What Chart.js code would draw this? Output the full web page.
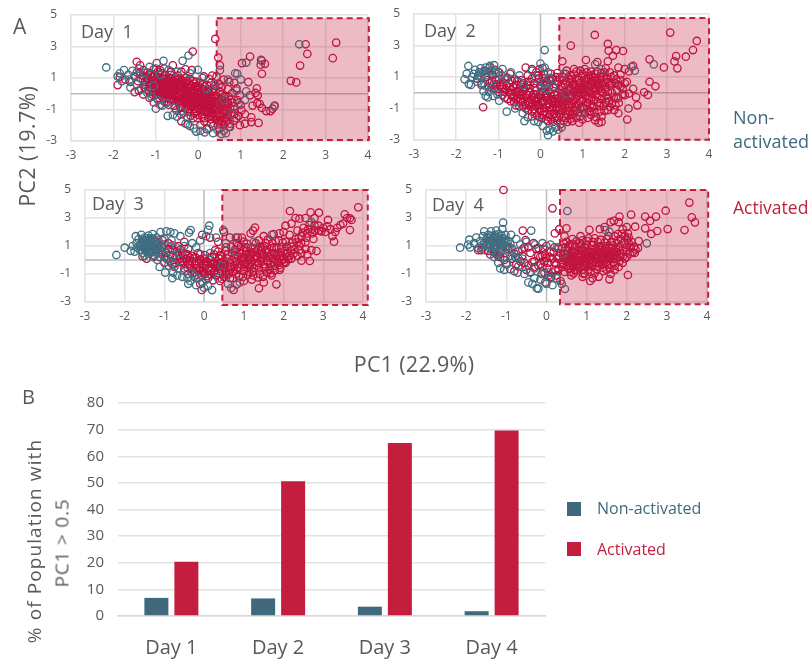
<!DOCTYPE html>
<html><head><meta charset="utf-8">
<script src="https://cdn.jsdelivr.net/npm/chart.js@4"></script>
<style>
html,body{margin:0;padding:0;background:#fff;width:809px;height:661px;overflow:hidden;font-family:"Open Sans",sans-serif}
canvas{position:absolute;left:0;top:0}
.t{position:absolute;white-space:pre;color:#595959;line-height:1}
.c{transform:translate(-50%,-50%)}
.r{transform:translate(-50%,-50%) rotate(-90deg)}
.sw{position:absolute;width:14px;height:14px}
</style></head><body>
<canvas id="c1" width="809" height="661"></canvas>
<canvas id="c2" width="809" height="661"></canvas>
<canvas id="c3" width="809" height="661"></canvas>
<canvas id="c4" width="809" height="661"></canvas>
<canvas id="c5" width="809" height="661"></canvas>
<div class="t" style="left:13px;top:16px;font-size:21px">A</div>
<div class="t" style="left:22px;top:387px;font-size:20px">B</div>
<div class="t r" style="left:27px;top:146px;font-size:21px;letter-spacing:.6px">PC2 (19.7%)</div>
<div class="t c" style="left:414px;top:364px;font-size:21.5px;letter-spacing:.3px">PC1 (22.9%)</div>
<div class="t" style="left:81px;top:22px;font-size:18px">Day  1</div>
<div class="t" style="left:424px;top:21px;font-size:18px">Day  2</div>
<div class="t" style="left:92px;top:194px;font-size:18px">Day  3</div>
<div class="t" style="left:432px;top:195px;font-size:18px">Day  4</div>
<div class="t" style="left:733px;top:105px;font-size:18px;color:#3F6A7E;line-height:24px">Non-
activated</div>
<div class="t" style="left:733px;top:199px;font-size:17.5px;color:#C41E3E">Activated</div>
<div class="t r" style="left:34px;top:541px;font-size:19px;letter-spacing:1.1px">% of Population with</div>
<div class="t r" style="left:62px;top:543px;font-size:19px;letter-spacing:.8px">PC1 &gt; 0.5</div>
<div class="sw" style="left:567px;top:502px;background:#41697D"></div>
<div class="sw" style="left:567px;top:542px;background:#C41E3E"></div>
<div class="t" style="left:597px;top:500px;font-size:16px;color:#3F6A7E">Non-activated</div>
<div class="t" style="left:597px;top:541px;font-size:16px;color:#C41E3E">Activated</div>
<script>
const dayLabels=["Day 1","Day 2","Day 3","Day 4"];
const barNonActivated=[6.8,6.6,3.5,1.8];
const barActivated=[20.4,50.6,65,69.7];
const xTickRange=[-3,4];
const yTickRange=[-3,5];
const gateX=[0.434,0.448,0.458,0.338];
const gateRight=[4.02,4,4.12,4.03];
const gateTop=[4.8,4.75,5,5];
const gateBottom=[-2.94,-2.98,-3.21,-3.16];

const day1Non=[[-2.17,1.67],[2.38,3.14],[1.13,1.98],[1.5,2.09],[.92,1.27],[.87,1.3],[.51,1.5],[1.79,-.8],[-.82,2.09],[-.37,2.09],[-.23,2.43],[-.01,1.52],[1.13,.15],[1.1,-.4],[-1.85,1.3],[-1.9,1.1],[-1.8,.8],[-1.75,1.5],[-1.65,1.2],[-1.6,.4],[-1.62,.9],[-1.55,1.45],[-1.5,1.1],[-1.45,.6],[-1.4,1.6],[-1.35,.3],[-1.3,.9],[-1.25,1.35],[-1.2,.05],[-1.15,1.7],[-1.1,-.2],[-1.05,.5],[-1,-.95],[-1,1.6],[-.95,-.4],[-.9,1.2],[-.85,-.75],[-.75,-.6],[-.7,1.5],[-.72,-1.4],[-.6,-1.35],[-.5,-1.45],[-.55,-.9],[-.4,-1.1],[-.3,-1.9],[-.25,-1.5],[-.2,-2.05],[-.1,-2.2],[-.05,-2.4],[.05,-2.35],[.15,-2.45],[.25,-2.2],[.35,-2.5],[.45,-2.3],[.55,-2.55],[.65,-2.5],[.72,-2.1],[.8,-1.3],[.6,-.4],[.2,.3],[.4,.6],[.9,.2],[.95,-.6],[1,.9],[.1,1],[-.2,1.3],[-.5,1.4],[.7,.9]];
const day1Act=[[.4,3.48],[3.25,3.25],[3.17,2.26],[2.53,3.14],[2.57,2.53],[2.4,1.79],[2.18,.82],[2.31,.72],[1.22,2.36],[1.48,2.15],[1.47,1.84],[1.57,1.9],[1.5,1.27],[1.03,1.94],[.47,2.3],[.51,1.8],[1.18,.74],[-.13,2.68],[-1.45,2.03],[-1.37,1.8],[-.98,1.95],[-.6,1.8],[-.4,1.4],[-.8,1.6],[-.15,1.5],[-.3,1.55],[.33,1.15],[.13,1.1],[.25,.95],[.43,1.1],[.6,.9],[.73,.75],[.85,.7],[.9,.35],[1.38,.35],[1.35,.05],[1.22,-.1],[1.4,-.1],[1.39,-.6],[1.28,-.75],[1.45,-.65],[1.6,-1.1],[1.7,-1.1],[1.8,-.75],[1.75,-.95],[1.5,-.9],[1.42,-1.85],[1.25,-1.5],[1.25,-1.8],[1.1,-1.9],[.98,-2],[1.1,-1.3],[-1.9,.55],[-1.85,1.05],[-1.72,.9],[-1.6,.75],[-1.5,.1],[-1.4,.2],[-1.3,-.05],[-1.25,.55],[-1.15,-.25],[-1.05,-.55],[-.9,-.7],[-.4,-1.75],[-.25,-1.95],[.05,-2],[.2,-2.25],[.35,-2.05],[.5,-2.2],[.6,-2.35],[.75,-2.1],[.65,-1.8],[.85,-1.7],[.95,-1.4],[.85,-1],[1,-.7],[.78,-.35],[.98,-.1],[.7,.3],[.55,.4],[.4,.5],
[-1.5,1.1],[-1.42,.8],[-1.38,1.3],[-1.3,1.5],[-1.27,.4],[-1.22,1],[-1.18,.2],[-1.14,.72],[-1.12,1.3],[-1.08,-.05],[-1.05,1.55],[-1.02,.5],[-1,.95],[-1,.15],[-.96,-.3],[-.94,1.25],[-.92,.7],[-.9,1.5],[-.88,.32],[-.86,.02],[-.84,.95],[-.82,-.28],[-.8,.55],[-.78,1.2],[-.76,.2],[-.74,-.5],[-.72,.8],[-.7,-.1],[-.68,1],[-.66,.4],[-.64,1.4],[-.62,-.35],[-.6,.65],[-.58,.1],[-.56,-.75],[-.54,.9],[-.52,-.2],[-.5,.35],[-.48,1.15],[-.46,-.5],[-.44,.6],[-.42,-.9],[-.4,.12],[-.38,.85],[-.36,-.28],[-.34,-1.2],[-.32,.4],[-.3,-.65],[-.28,1],[-.26,-.08],[-.24,-1],[-.22,.6],[-.2,-.42],[-.18,-1.4],[-.16,.22],[-.14,-.8],[-.12,.8],[-.1,-.15],[-.08,-1.15],[-.06,.4],[-.04,-.55],[-.02,-1.55],[0,.1],[.02,-.95],[.04,.7],[.06,-.3],[.08,-1.3],[.1,.3],[.12,-.7],[.14,-1.75],[.16,-.1],[.18,-1.1],[.2,.55],[.22,-.5],[.24,-1.5],[.26,.1],[.28,-.9],[.3,-1.9],[.32,-.25],[.34,-1.25],[.36,.3],[.38,-.65],[.4,-1.6],[.42,-.1],[.44,-1.05],[.46,-1.95],[.48,-.45],[.5,-1.4],[.52,.1],[.54,-.8],[.56,-1.75],[.6,-.2],[.62,-1.1],[.66,-1.5],[.7,-.6],[.74,-1.9],[.78,-1.25],[.8,.05],[.84,-.8],[.9,-1.55],[.92,-.4],[1.02,-1.05],[-.7,.3],[-.6,-.05],[-.5,.75],[-.4,.35],[-.3,.15],[-.2,.05],[-.1,.2],[-.75,.6],[-.65,.15],[-.55,.5],[-.45,-.1],[-.35,-.5],[-.25,-.3],[-.15,-.6],[-.05,-.35],[.05,-.75],[.15,-.55],[.25,-.7],[.35,-1],[.45,-.8],[-.85,.5],[-.95,.3],[-1.05,.8],[-.9,.1],[-.8,.15],[-.7,.5],[-.6,.3]];
const day1ActCore=[[-1.17,.95],[-1.06,.82],[-.97,.78],[-.87,.68],[-.77,.53],[-.66,.5],[-.57,.36],[-.46,.3],[-.37,.16],[-.26,.11],[-.17,-.02],[-.06,-.08],[.03,-.22],[.14,-.27],[.23,-.41],[.34,-.46],[.44,-.6],[.55,-.65],[.64,-.79],[-1.13,.62],[-1.03,.52],[-.93,.48],[-.83,.36],[-.73,.23],[-.63,.19],[-.53,.05],[-.43,-.02],[-.33,-.14],[-.23,-.2],[-.13,-.33],[-.03,-.4],[.07,-.52],[.17,-.58],[.27,-.72],[.37,-.78],[.47,-.9],[.57,-.97],[.67,-1.08],[-1.1,.32],[-1,.22],[-.9,.17],[-.8,.04],[-.7,-.06],[-.6,-.12],[-.5,-.26],[-.4,-.32],[-.3,-.45],[-.2,-.52],[-.1,-.63],[0,-.72],[.1,-.82],[.2,-.9],[.3,-1.02],[.4,-1.08],[.5,-1.2],[.6,-1.28],[.7,-1.38],[-.88,-.13],[-.78,-.24],[-.68,-.35],[-.58,-.43],[-.48,-.55],[-.38,-.63],[-.28,-.76],[-.18,-.82],[-.08,-.95],[.02,-1.02],[.12,-1.14],[.22,-1.2],[.32,-1.33],[.42,-1.4],[.52,-1.5],[.62,-1.6],[-1.12,1.22],[-1.02,1.14],[-.92,1.04],[-.82,.98],[-.72,.85],[-.62,.78],[-.52,.66],[-.42,.6],[-.32,.48],[-.22,.4],[-.12,.28],[-.02,.22],[.08,.1],[.18,.02],[.28,-.1],[.38,-.18],[.48,-.3],[.58,-.38],[.68,-.48],[-.47,.88],[-.37,.72],[-.27,.68],[-.17,.55],[-.07,.48],[.03,.36],[.13,.28],[.23,.18],[.33,.1],[-.76,.36],[-.56,.22],[-.36,.02],[-.16,-.2],[.04,-.4],[.24,-.6],[.44,-1],[-.64,-.24],[-.44,-.46],[-.24,-.64],[-.04,-.85],[.16,-1],[.36,-1.25],[-.3,-.95],[-.1,-1.25],[.1,-1.45],[.3,-1.62],[.5,-1.72],[-.95,.9],[-.75,.72],[-.55,.52],[-.35,.32],[-.15,.12],[.05,-.05],[.25,-.25],[.45,-.45],[.62,-.6]];
const day1ActFringe=[[-1.45,1.35],[-1.35,.95],[-1.3,1.15],[-1.25,.75],[-1.2,1.35],[-1.15,.45],[-1.1,1.05],[-1,.65],[-.95,1.4],[-.85,1.3],[-.75,1],[-.65,1.2],[-.55,1.05],[-.45,.95],[-.3,.8],[-.2,.95],[-.1,.65],[0,.5],[.1,.6],[.3,.7],[.5,.6],[.55,-.05],[.72,-.2],[.75,-.9],[.8,-.55],[.85,-1.3],[.68,-1.7],[.6,-1.95],[.45,-1.7],[.3,-1.4],[.15,-1.55],[0,-1.35],[-.12,-1.55],[-.2,-1.15],[-.4,-1.3],[-.52,-1.05],[-.7,-.7],[-.8,-.5],[-1,-.05],[-1.1,.1],[-.9,.6],[-.7,.65],[-.5,.5],[-.3,.25],[-.1,0],[.1,-.25],[.3,-.45],[.5,-.65],[.62,-.15],[.35,.2],[.15,.45],[-.05,.75],[-.25,.8],[-1.02,.35],[-.82,.15],[-.62,-.1],[-.42,-.3],[-.22,-.45],[-.02,-.6],[.18,-.8]];

const day2Non=[[.1,2.71],[-1.71,1.7],[2.69,1.8],[2.16,1.65],[2.24,1.4],[-1.8,.85],[-.8,-1.2],[-.38,-1.8],[0,1.85],[.18,-2.7],[-1.75,1.2],[-1.7,.55],[-1.65,.5],[-1.62,1],[-1.55,1.45],[-1.5,.7],[-1.45,1.3],[-1.4,1],[-1.35,.1],[-1.3,1.6],[-1.25,-.3],[-1.2,1.7],[-1.15,.3],[-1.1,1.75],[-1.3,-.2],[-1.05,1.2],[-.98,-.5],[-.9,1.5],[-.8,.9],[-.7,1.3],[-.6,-1],[-.5,1.1],[-.42,-1.3],[-.3,-1.55],[-.2,1.4],[-.15,-1.8],[-.05,-1.85],[.05,-2.1],[.1,1.6],[.15,-2.4],[.22,-2.35],[.3,-2.45],[.35,-2.2],[.42,-2.35],[.5,-2.2],[.1,.6],[.3,.4],[.18,1.3],[1.3,1.8],[1.45,1.5],[.97,-1.3],[.55,1.2],[-.1,.9],[-.4,.5],[.6,-.1],[-1.58,1.2],[-1.48,1.05],[-1.42,1.55],[-1.36,1.3],[-1.3,1.1],[-1.22,1.35],[-1.15,1.45],[-1.08,.9],[-1,1.3],[-.92,1.1],[-1.4,.6],[-1.32,.45],[-1.22,.05],[-1.12,-.2],[-1.02,-.1],[.22,.95],[.15,.25],[.02,.3]];
const day2Act=[[1.29,3.67],[3.08,3.82],[3.71,3.29],[3.62,2.71],[3.45,2.29],[3.22,2.33],[3.18,1.99],[3.25,1.55],[2.93,1.61],[2.59,2.12],[.72,2.99],[1.6,3.1],[1.62,2.67],[1.8,2.71],[1.96,2.65],[1.72,2.35],[2.59,.7],[2.73,.41],[2.46,.03],[2.55,-.14],[2.3,-.8],[2.09,-1],[2.06,-1.7],[2.27,-.29],[-1.36,-.92],[.52,2],[1.08,2.08],[1.35,1.95],[1.6,2],[1.85,1.6],[2,1.5],[2.1,1.35],[2.2,1.7],[1.9,1.15],[2.05,.7],[2.2,.25],[2.1,-.05],[2,-.15],[1.8,-.3],[1.75,-1.1],[1.85,-1.3],[1.6,-1.1],[1.38,-1.9],[1.45,-1.85],[1.3,-1.75],[1.2,-1.4],[.92,-1.9],[.75,-1.8],[-1.5,.9],[-1.4,.5],[-1.32,1.4],[-1.2,1.6],[-1.08,1.45],[-.35,1.6],[-.2,1.5],[-.02,1.5],[.05,1.55],[.2,.8],[.4,1.25],[.62,1.4],[.8,1.5],[.95,1.4],[1.05,1.5],[1.2,1.35],
[-1.28,1],[-1.2,.6],[-1.15,1.1],[-1.1,.25],[-1.05,.8],[-1,.05],[-.98,1.3],[-.95,.5],[-.9,-.15],[-.85,.9],[-.82,.2],[-.78,-.4],[-.75,.6],[-.72,1.2],[-.68,-.1],[-.65,.35],[-.62,-.6],[-.6,.85],[-.55,.1],[-.52,-.3],[-.5,-.85],[-.46,.5],[-.44,-.1],[-.42,-.6],[-.38,.2],[-.35,-1],[-.34,-.3],[-.3,1.1],[-.28,-.75],[-.26,.05],[-.24,.7],[-.22,-.45],[-.2,-1.2],[-.16,-.1],[-.14,.3],[-.12,-.8],[-.1,1.3],[-.08,-1.45],[-.06,-.3],[-.04,.9],[-.02,-1],[0,.4],[.02,-.55],[.04,-1.6],[.06,.05],[.08,1.2],[.1,-1.2],[.12,-.2],[.14,.5],[.16,-.8],[.18,-1.8],[.2,.1],[.22,-1.4],[.24,-.45],[.26,.9],[.28,-1],[.3,-1.85],[.32,.3],[.34,-.1],[.36,-.7],[.38,-1.5],[.4,.7],[.42,-.35],[.44,-1.1],[.46,.2],[.48,-2],[.5,-.8],[.52,1],[.54,-.15],[.56,-1.5],[.58,.5],[.6,-.5],[.62,-1.15],[.64,-1.85],[.66,.15],[.68,.9],[.7,-.8],[.72,-.2],[.74,-1.4],[.76,.5],[.78,-.5],[.8,1.15],[.82,.1],[.84,-1.1],[.86,-.25],[.88,.8],[.9,-.7],[.92,.35],[.94,-1.5],[.96,0],[.98,1.05],[1,-.45],[1.02,.55],[1.04,-1],[1.06,.2],[1.08,-.2],[1.1,.9],[1.12,-.65],[1.14,.4],[1.16,-1.2],[1.18,.05],[1.2,1.1],[1.22,-.3],[1.24,.65],[1.26,-.85],[1.28,.25],[1.3,1.2],[1.32,-.1],[1.34,.8],[1.36,-.6],[1.38,.4],[1.4,-1.2],[1.42,1.05],[1.44,.1],[1.46,-.35],[1.48,.6],[1.5,-.85],[1.52,1.3],[1.54,.2],[1.56,-.2],[1.58,.85],[1.62,-.55],[1.65,.45],[1.68,1],[1.7,0],[1.74,-.3],[1.78,.6],[1.82,.15],[1.86,-.65],[1.9,.4],[1.95,-.1],[-.3,.45],[-.1,-.55],[.1,.25],[.3,-.4],[.5,.35],[.7,.2],[.9,.05],[1.1,.15],[1.3,.55],[-.5,.25],[-.7,.15],[-.9,.25],[0,-.15],[.2,-.9],[.4,-.95],[.6,-.2]];
const day2ActCore=[[-.72,.02],[-.64,-.2],[-.58,-.42],[-.5,-.1],[-.48,-.58],[-.42,.12],[-.4,-.35],[-.36,-.75],[-.32,-.12],[-.3,-.52],[-.24,-.9],[-.2,-.25],[-.18,-.68],[-.14,-1.05],[-.1,-.12],[-.08,-.42],[-.04,-.82],[0,-1.18],[.02,-.3],[.04,-.65],[.08,-.98],[.12,-1.35],[.14,-.05],[.16,-.48],[.2,-.72],[.22,-1.1],[.25,-.22],[.28,-.6],[.3,-.85],[.32,-1.3],[.35,-.38],[.38,-1.1],[.4,-.15],[.42,-.7],[.45,-1.4],[.48,-.45],[.5,-.05],[.52,-1],[.55,-.3],[.58,-.85],[.6,-1.35],[.62,.05],[.65,-.55],[.68,-.95],[.7,-.3],[.72,.3],[.75,-.7],[.78,.05],[.8,-1.15],[.82,-.4],[.85,.3],[.88,-.85],[.9,-.2],[.92,.6],[.95,-.55],[.98,.2],[1,-.95],[1.02,-.1],[1.05,.45],[1.08,-.6],[1.1,.7],[1.12,-.25],[1.15,.15],[1.18,-.8],[1.2,.5],[1.22,-.05],[1.25,.3],[1.28,-.45],[1.3,.8],[1.32,.1],[1.35,-.25],[1.38,.6],[1.4,.25],[1.42,-.65],[1.45,.45],[1.48,0],[1.52,.7],[1.55,.35],[1.6,.05],[1.65,.6],[-.15,-.35],[.05,-.5],[.25,-.45],[.45,-.9],[.65,-.75],[.85,-.05],[1.05,.05],[.55,-.6],[.35,-.55],[.15,-.3],[-.05,-.7],[.75,-.2],[.95,.35],[1.15,-.4],[1.35,.45],[-.25,-.6],[-.45,-.2],[-.6,.05],[.62,-.1],[.82,.45],[1.02,.25]];
const day2ActFringe=[[-1.25,.8],[-1.22,.35],[-1.15,.75],[-1.12,.5],[-1.05,.55],[-1.02,.25],[-.98,.85],[-.92,.35],[-.88,.65],[-.85,.05],[-.8,.45],[-.78,.95],[-.72,.35],[-.68,.75],[-.65,-.3],[-.58,.5],[-.55,.75],[-.5,.05],[-.45,.8],[-.4,.6],[-.35,.35],[-.3,.7],[-.25,.3],[-.2,.9],[-.15,.6],[-.1,.15],[-.05,1.1],[0,.7],[.05,.95],[.1,.9],[.15,.7],[.2,.4],[.25,1.2],[.3,.85],[.35,.55],[.38,1],[.45,.95],[.48,.45],[.55,.8],[.6,1.2],[.62,.7],[.7,.65],[.72,1.1],[.75,.85],[.8,.55],[.85,1.35],[.9,.95],[.95,.65],[1,1.2],[1.05,.8],[1.1,1.3],[1.15,.95],[1.2,.75],[1.25,1],[1.3,.95],[1.35,1.35],[1.4,.8],[1.45,1.25],[1.5,1],[1.55,1.55],[1.6,.7],[1.65,1.3],[1.7,.6],[1.75,1.1],[1.8,.85],[1.85,.5],[1.9,.8],[1.95,.25],[2,.6],[.5,-1.15],[.55,-1.8],[.6,-1.6],[.65,-1.35],[.7,-1.15],[.72,-1.65],[.78,-1.35],[.82,-.9],[.85,-1.6],[.9,-1.25],[.95,-.95],[1,-1.7],[1.05,-1.3],[1.1,-.85],[1.12,-1.6],[1.18,-1.15],[1.22,-.95],[1.28,-1.25],[1.32,-1.55],[1.4,-.85],[1.45,-1.5],[1.52,-1.15],[1.55,-.6],[1.6,-.35],[1.65,-.9],[1.7,-.65],[1.78,-.8],[1.85,-.35],[.4,-1.75],[.34,-1.6],[.26,-1.7],[.2,-1.55],[.14,-1.7],[.06,-1.4],[-.02,-1.55],[-.12,-1.3],[-.2,-1.5],[-.3,-1.1],[-.4,-.85],[-.58,-.8],[-.7,-.55],[-.85,-.3]];

const day3Non=[[-2.21,.36],[-2,.88],[.13,2.45],[.1,2.15],[-.34,2.14],[-.38,1.95],[.48,2.14],[.68,-2],[-1.85,.65],[-1.8,1],[-1.75,.6],[-1.72,1.7],[-1.7,1.2],[-1.68,.9],[-1.65,1.5],[-1.62,.7],[-1.6,1.1],[-1.58,1.8],[-1.55,.5],[-1.55,1.3],[-1.52,.85],[-1.5,1.6],[-1.5,.3],[-1.48,1.05],[-1.46,.65],[-1.44,1.4],[-1.42,.9],[-1.4,1.75],[-1.4,.45],[-1.38,1.2],[-1.36,.75],[-1.34,1.55],[-1.32,1],[-1.3,.55],[-1.3,1.85],[-1.28,.2],[-1.25,1.3],[-1.22,.8],[-1.2,1.6],[-1.18,0],[-1.15,1.1],[-1.12,-.5],[-1.1,2],[-1.05,.4],[-1,1.5],[-.98,-.9],[-.95,2.05],[-.9,.1],[-.85,2],[-.82,1.4],[-.8,-1.3],[-.78,-.9],[-.75,1.9],[-.7,.9],[-.68,-1.1],[-.6,1.7],[-.55,-1.2],[-.5,1],[-.42,-1.3],[-.4,-1.7],[-.35,-1.5],[-.3,1.2],[-.25,-1.2],[-.2,-1.8],[-.1,1.4],[-.05,-1.6],[0,-2],[.05,1.7],[.1,-1.85],[.2,-2.15],[.15,.5],[.3,1.6],[.35,-1.3],[.55,1.2],[.6,-1.7],[.8,1.6],[.9,-1.6],[1.25,1.3],[1.7,1.8],[2.7,2.7],[.75,.6],[.45,-.4],[-.2,.9],[-.6,.5],[-1,.7],[-.8,.3],[-1.08,.9],[-1.62,1],[-1.56,.7],[-1.58,1.2],[-1.52,1.45],[-1.48,.8],[-1.46,1.2],[-1.43,1],[-1.41,.7],[-1.38,1.45],[-1.36,.95],[-1.33,.65],[-1.3,1.2],[-1.27,.95],[-1.24,.6],[-1.5,1],[-1.45,1.55],[-1.35,1.25],[-1.28,1.5],[-1.18,.9],[-1.15,1.4],[-1.1,.6],[-.98,.2],[-.9,-.4],[-.75,-.3],[-.65,-.6],[-.5,-.8],[-.3,-.95],[-.15,-1.3],[.05,-1.4]];
const day3Act=[[3.88,3.76],[3.54,3.26],[3.67,2.98],[3.71,2.86],[3.67,2.14],[3.27,1.31],[3.23,1.71],[2.16,3.5],[2.68,3.4],[2.89,3.38],[3.12,2.86],[2.78,3],[1.38,-2.02],[.74,-2.14],[-.06,-2.14],[1.82,-1.74],[2.66,-.07],[2.83,.64],[1.28,2.31],[1.17,1.9],[1.23,2.1],[3.3,2],[3.43,2.5],[3.5,2.6],[3.6,3],[3.1,2.4],[3,2.3],[2.9,2.1],[2.8,2.1],[2.75,1.5],[2.7,2.2],[2.65,2.5],[2.55,3],[2.4,2.95],[2.3,3],[2.2,2.6],[2.05,2.45],[2,2],[1.9,1.9],[1.75,1.85],[1.5,1.7],[.5,2],[.65,1.6],[.85,1.6],[.95,1.6],[2.55,.8],[2.4,1],[2.7,.7],[2.45,-.05],[2.35,.3],[2.2,.1],[2.05,-.2],[1.9,-.7],[1.7,-1.1],[1.5,-1.6],[1.2,-1.4],[1,-1.5],[.82,-1.75],[.4,-1.5],[-.1,-1.7],[-.8,-.3],[-.4,-1],[-1.25,.3],[-1.45,.1],[-1.55,.25],[-1.3,1.5],[-1.2,1.3],[-1.05,1.4],[-.5,1.3],[-.05,1.8],[.15,1.6],[.35,1.3],[.55,.9],
[-1.2,.7],[-1.12,.2],[-1.05,.9],[-1,-.2],[-.95,.5],[-.9,1.2],[-.85,-.1],[-.8,.7],[-.75,-.5],[-.7,.3],[-.65,1],[-.6,-.15],[-.55,.5],[-.5,-.6],[-.45,.1],[-.4,.8],[-.35,-.4],[-.3,.3],[-.25,-.9],[-.2,-.1],[-.15,.5],[-.1,-.55],[-.05,-1.1],[0,.1],[.05,-.4],[.1,-1.3],[.15,-.75],[.2,.2],[.25,-.2],[.3,-1.1],[.35,.6],[.4,-.6],[.45,-1.35],[.5,-.1],[.55,-.85],[.6,.4],[.65,-1.3],[.7,-.45],[.75,.15],[.8,-1],[.85,1],[.9,-.3],[.95,.45],[1,-.8],[1.05,.9],[1.1,-1.05],[1.15,.05],[1.2,.55],[1.25,-.55],[1.3,1.2],[1.35,.2],[1.4,-1],[1.45,.7],[1.5,-.3],[1.55,1.2],[1.6,.3],[1.65,-.7],[1.7,.85],[1.75,-.15],[1.8,1.35],[1.85,.4],[1.9,-.35],[1.95,.9],[2,.05],[2.05,1.3],[2.1,.5],[2.15,1.8],[2.2,.95],[2.25,.45],[2.3,1.5],[2.35,2.1],[2.4,.7],[2.45,1.7],[2.5,2.3],[2.55,1.25],[2.6,1.9],[2.45,.5],[2.6,.4],[1.05,-.2],[1.15,-.5],[1.25,.2],[1.35,-.2],[1.45,.1],[1.55,-.5],[1.65,.2],[1.75,.5],[1.85,-.05],[1.95,.3],[2.05,.4],[2.15,.3],[1,.2],[.9,.5],[.8,-.1],[.7,.5],[.6,-.5],[.5,-.55],[.4,-.2],[.3,-.45],[.2,-.55],[.1,-.2],[0,-.9],[-.1,.05],[-.2,-.6],[-.3,-.1],[-.4,-.3],[-.5,.1],[-.6,.1],[.45,.3],[.25,.4],[1.6,-.1],[1.4,.4],[1.2,-.15],[1.05,.4],[.95,-.1]];
const day3ActCore=[[-.62,.35],[-.52,-.2],[-.42,.4],[-.32,-.55],[-.26,.1],[-.22,-.3],[-.12,-.8],[-.08,-.2],[-.02,-.55],[.02,-1],[.06,-.1],[.12,-.55],[.16,-1.05],[.22,-.3],[.26,-.75],[.32,-.1],[.36,-.95],[.42,-.45],[.46,-.8],[.52,-.3],[.56,-1.05],[.62,-.7],[.66,-.2],[.72,-.85],[.76,-.4],[.82,-.7],[.86,.2],[.92,-.55],[.96,.1],[1.02,-.5],[1.06,.65],[1.12,-.3],[1.16,.3],[1.22,-.8],[1.26,.55],[1.32,-.4],[1.36,.75],[1.42,-.05],[1.46,.45],[1.52,-.6],[1.56,.7],[1.62,.55],[1.66,-.3],[1.72,.1],[1.76,.9],[1.82,.3],[1.86,-.2],[1.92,.55],[1.96,0],[2.02,.65],[2.08,.2],[1.1,.1],[1.3,.3],[1.5,.35],[1.7,.4],[1.9,.1],[1,-.3],[.85,-.55],[.65,-.5],[.45,-.15],[.25,-.85],[1.18,.4],[1.38,-.6],[1.58,-.05],[1.78,-.4],[.98,.7],[1.48,.9],[.78,.35],[.58,.1],[.38,.1],[.18,-.2],[-.02,-.3]];
const day3ActFringe=[[-1.15,.95],[-1.08,.55],[-1.02,1.1],[-.95,.1],[-.9,.8],[-.85,.35],[-.8,1.05],[-.72,-.2],[-.68,.6],[-.6,.75],[-.55,-.05],[-.48,.45],[-.42,-.55],[-.36,.15],[-.3,-.7],[-.22,.2],[-.18,-1.05],[-.1,.4],[-.05,-.8],[.02,.35],[.08,-1.15],[.14,.15],[.22,-1.45],[.28,.7],[.34,-.25],[.4,.35],[.5,-1.2],[.55,.65],[.62,-1],[.68,.95],[.72,-1.3],[.78,.75],[.82,1.2],[.88,-1.15],[.92,.95],[.98,-1.2],[1,1.3],[1.08,1.15],[1.14,-.85],[1.18,.9],[1.24,-1.1],[1.28,.85],[1.35,-1.25],[1.38,1.4],[1.42,.95],[1.48,-1.2],[1.52,1],[1.58,-.9],[1.6,1.45],[1.68,-.95],[1.72,1.2],[1.78,-.75],[1.82,.85],[1.88,1.4],[1.92,-.55],[1.98,1.25],[2.02,-.15],[2.08,.95],[2.12,.05],[2.18,.65],[2.22,1.25],[2.28,.75],[2.34,1.25],[2.38,1.55],[2.44,1.2],[2.48,1.95],[2.58,1.6],[2.62,2.2],[2.72,1.9],[2.78,2.45],[2.88,2.45],[2.95,2.05],[3.05,2],[3.18,2.2],[3.35,2.3]];

const day4Non=[[.52,3.5],[-1.08,2.67],[-.38,2.1],[2.5,1.19],[-2.15,.88],[.46,-2.07],[-.24,-2.02],[1.57,2.02],[1.46,2.14],[-1.95,1.1],[-1.92,1.45],[-1.9,.9],[-1.8,1.2],[-1.75,1.6],[-1.7,.85],[-1.65,1.35],[-1.6,1.05],[-1.58,1.7],[-1.55,2.05],[-1.52,.7],[-1.5,1.5],[-1.48,1.15],[-1.45,1.8],[-1.42,.9],[-1.4,1.4],[-1.38,2.05],[-1.35,.65],[-1.33,1.2],[-1.3,1.65],[-1.28,.95],[-1.25,2.1],[-1.22,1.4],[-1.2,.4],[-1.18,1.85],[-1.15,1.05],[-1.12,.7],[-1.1,1.55],[-1.1,2.2],[-1.07,.2],[-1.05,1.25],[-1.02,1.8],[-1,.9],[-.98,-.3],[-1.15,-.6],[-1.05,-.7],[-.95,1.35],[-.9,-.65],[-.88,1.8],[-.8,.5],[-.75,1.5],[-.72,-.9],[-.65,1.1],[-.6,-.5],[-.5,1.3],[-.45,-1.6],[-.4,-.9],[-.35,-1.7],[-.3,-1.3],[-.28,1.1],[-.2,-2.05],[-.15,-1.4],[-.1,1.2],[0,-1.7],[.05,-.9],[.1,1.1],[.15,-1.8],[.25,-1.3],[.3,.9],[.38,-1.7],[.42,.5],[-1.3,.2],[-1.25,.5],[-1.2,-.2],[-1.15,.9],[-1.32,.9],[-.9,.3],[-1.55,1.25],[-1.5,1.05],[-1.46,1.6],[-1.44,1.25],[-1.4,1.1],[-1.38,1.7],[-1.36,1.45],[-1.32,1.55],[-1.3,1.3],[-1.28,1.8],[-1.25,1.1],[-1.22,1.65],[-1.2,1.2],[-1.17,1.5],[-1.14,1.3],[-1.12,1.75],[-1.08,1.05],[-1.05,1.5],[-1,1.3],[-.95,.95],[-.9,1.15],[-.85,.8],[-.78,.2],[-.7,.1],[-.6,.1],[-.55,-1],[-.3,-.6],[-.1,-1],[.1,-1.3]];
const day4Act=[[-1.07,5],[.15,3.69],[3.56,4.1],[3.62,3.05],[3.7,2.69],[3.44,2.14],[2.97,3.52],[2.73,3.1],[2.46,3.1],[2.11,3.24],[1.82,3.1],[3.02,2.21],[2.76,2.07],[2.61,1.86],[2.58,2.79],[2.46,2.26],[2.21,2.38],[-.59,2.1],[-.52,1.43],[2.03,-1.07],[1.57,-1.38],[1.09,-1.5],[.5,2.26],[.32,2.2],[.21,1.9],[.45,1.7],[.65,1.5],[.85,1.7],[1.07,2.15],[1.33,2.2],[1.45,2.35],[1.6,2.7],[1.68,2.8],[1.8,2.7],[1.9,2.2],[2,2.35],[2.03,1.9],[2.05,1.6],[2.3,1.35],[2.28,.85],[2.2,.5],[2,.2],[1.9,-.2],[1.7,-.4],[1.6,-1],[1.3,-1.2],[1.15,-1.3],[.9,-1.2],[-1.7,.7],[-1.62,.7],[-1.4,.4],[-1.25,.45],[-1.15,.55],[-1.12,1.4],[-1,-.3],[-.8,-.8],[-.65,-.1],[-.6,.3],[-.5,-.7],[-.35,-.15],[-.32,1.2],[-.2,.3],[-.1,-.5],[-.08,.8],[0,1],[-.03,-1.6],[.2,-.2],[.3,.8],[.35,-1.5],
[.35,.5],[.38,-.3],[.42,.15],[.45,-.85],[.48,.9],[.5,-.1],[.52,.4],[.55,-.6],[.58,1.1],[.6,.05],[.62,-1.1],[.65,.6],[.68,-.3],[.7,.2],[.72,1],[.75,-.75],[.78,.4],[.8,-.1],[.82,1.2],[.85,-.5],[.88,.65],[.9,.1],[.92,-1],[.95,.9],[.98,-.25],[1,.35],[1.02,1.35],[1.05,-.7],[1.08,.6],[1.1,0],[1.12,1.05],[1.15,-.4],[1.18,.3],[1.2,-.95],[1.22,.8],[1.25,.05],[1.28,1.3],[1.3,-.45],[1.32,.5],[1.35,-.1],[1.38,1],[1.4,.2],[1.42,-.8],[1.45,.7],[1.48,-.2],[1.5,1.5],[1.52,.35],[1.55,.95],[1.58,-.6],[1.6,.1],[1.62,1.3],[1.65,.55],[1.68,-.15],[1.7,1.7],[1.73,.8],[1.75,.25],[1.78,1.4],[1.8,-.5],[1.83,1],[1.85,.4],[1.88,1.85],[1.9,.7],[1.93,1.25],[1.95,.1],[1.98,.9],[2.02,1.45],[2.1,.9],[2.15,.55],[.55,.25],[.65,-.1],[.75,.05],[.85,.3],[.95,.45],[1.05,.15],[1.15,.45],[1.25,.35],[1.35,.7],[1.45,.1],[1.55,.4],[.6,-.4],[.7,.5],[.8,.7],[.9,-.35],[1,-.1],[1.1,.5],[1.2,.2],[1.3,.15],[1.4,.55],[1.5,.05],[1.6,.6],[1.7,.4],[.28,.1],[.22,-.7],[.18,.55],[.12,-1.2],[.08,.2],[.02,-.6],[-.04,.4],[-.12,-1],[-.25,.8],[-.3,-.5],[-.4,.5],[-.45,-.4],[-.55,.9],[-.7,.6],[-.75,-.3],[-.85,.1],[-.95,.75],[-1.05,0],[-1.2,.25],[-1.3,.55],[-1.45,.65]];
const day4ActCore=[[.42,-.2],[.46,.4],[.5,-.45],[.54,.65],[.58,-.2],[.62,.3],[.66,-.55],[.7,-.1],[.72,.55],[.76,-.3],[.78,.2],[.82,-.6],[.84,.4],[.88,-.1],[.9,.8],[.94,-.45],[.96,.15],[1,.6],[1.02,-.3],[1.04,.25],[1.08,-.45],[1.1,.3],[1.12,.75],[1.16,-.15],[1.18,.55],[1.22,.1],[1.24,-.25],[1.26,.65],[1.3,.4],[1.32,-.2],[1.34,.95],[1.38,.25],[1.4,-.3],[1.42,.45],[1.46,.85],[1.5,.25],[1.52,-.35],[1.54,.6],[1.58,.2],[1.62,.85],[1.64,.3],[1.68,.65],[1.72,.1],[1.76,.55],[1.8,.9],[1.84,.2],[.7,-.7],[.9,-.7],[1.1,-.25],[.6,.45],[.8,.15],[1,.1],[1.2,.4],[1.4,.05],[1.6,.35],[.5,.15],[.4,-.5],[.3,.3],[.25,-.3],[.15,.1],[.05,-.2],[-.05,-.1],[-.15,.25],[-.2,-.4]];
const day4ActFringe=[[.4,.85],[.44,1.15],[.5,1.3],[.55,.95],[.6,-.85],[.65,1.15],[.68,-.95],[.75,1.35],[.78,-.45],[.85,1.05],[.9,1.4],[.95,-.95],[1,1.1],[1.05,1.55],[1.1,-.85],[1.15,1.3],[1.2,1.55],[1.25,-.65],[1.3,.95],[1.35,1.45],[1.4,-.55],[1.45,1.25],[1.5,-.7],[1.55,1.7],[1.6,-.35],[1.65,1.05],[1.7,-.7],[1.75,1.2],[1.78,1.85],[1.82,-.1],[1.85,1.5],[1.9,.25],[1.95,1.7],[2,.6],[2.05,1.2],[2.08,.45],[2.12,1.3],[2.18,.95],[2.22,.75],[.3,-.7],[.25,-1.1],[.2,.9],[.15,-.9],[.1,.55],[.05,-1.1],[0,.15],[-.05,-.9],[-.1,.3],[-.15,-.3],[-.2,.85],[-.3,-.1],[-.4,-.85],[-.45,.9],[-.55,-.2],[-.6,.75],[-.7,-.45],[-.8,.45],[-.9,.85],[-1.02,.5],[-1.15,.2],[-1.1,1.1],[-1.28,.8],[-1.6,.9]];

const groupsNon=[day1Non,day2Non,day3Non,day4Non];
const groupsAct=[day1Act.concat(day1ActCore,day1ActFringe),day2Act.concat(day2ActCore,day2ActFringe),day3Act.concat(day3ActCore,day3ActFringe),day4Act.concat(day4ActCore,day4ActFringe)];
const plotLeft=[71,414,85,426];
const plotRight=[368,709,363,707];
const plotTop=[15,14,190,190];
const plotBottom=[141,140,302,302];

const TEAL='#3F6E82',RED='#C0103F',GREY='#595959',GRID='#E2E2E2',AXIS='#BDBDBD';
Chart.defaults.font.family='"Open Sans",sans-serif';
Chart.defaults.animation=false;

function toPoints(a){return a.map(p=>({x:p[0],y:p[1]}));}
const overlay={id:'overlay',
 beforeDatasetsDraw(c){const{x,y}=c.scales,a=c.chartArea,g=c.ctx;g.save();g.strokeStyle=AXIS;g.lineWidth=1.3;
  g.beginPath();g.moveTo(a.left,y.getPixelForValue(0));g.lineTo(a.right,y.getPixelForValue(0));
  g.moveTo(x.getPixelForValue(0),a.top);g.lineTo(x.getPixelForValue(0),a.bottom);g.stroke();g.restore();},
 afterDatasetsDraw(c,_,o){const{x,y}=c.scales,g=c.ctx,i=o.index;
  const l=x.getPixelForValue(gateX[i]),r=x.getPixelForValue(gateRight[i]),t=y.getPixelForValue(gateTop[i]),b=y.getPixelForValue(gateBottom[i]);
  g.save();g.fillStyle='rgba(194,30,62,0.3)';g.fillRect(l,t,r-l,b-t);
  g.strokeStyle='#C41E3E';g.lineWidth=2;g.setLineDash([6,4]);g.strokeRect(l,t,r-l,b-t);g.restore();}
};

groupsNon.forEach((non,i)=>{
 new Chart(document.getElementById('c'+(i+1)),{type:'scatter',plugins:[overlay],
  data:{datasets:[
   {label:'Non-activated',data:toPoints(non),showLine:false,pointRadius:3.7,pointBorderWidth:1.3,pointBackgroundColor:'rgba(0,0,0,0)',pointBorderColor:TEAL,clip:false},
   {label:'Activated',data:toPoints(groupsAct[i]),showLine:false,pointRadius:3.7,pointBorderWidth:1.3,pointBackgroundColor:'rgba(0,0,0,0)',pointBorderColor:RED,clip:false}]},
  options:{responsive:false,
   layout:{padding:{left:plotLeft[i]-30,right:809-plotRight[i],top:plotTop[i],bottom:661-plotBottom[i]-30}},
   plugins:{legend:{display:false},tooltip:{enabled:false},overlay:{index:i}},
   scales:{
    x:{type:'linear',min:xTickRange[0],max:xTickRange[1],afterFit(s){s.height=30;s.paddingLeft=0;s.paddingRight=0;},
     ticks:{stepSize:1,color:GREY,font:{size:12},padding:7,maxRotation:0},
     grid:{color:GRID,lineWidth:1.4,drawTicks:false},border:{color:GRID,width:1.4}},
    y:{min:yTickRange[0],max:yTickRange[1],afterFit(s){s.width=30;s.paddingTop=0;s.paddingBottom=0;},
     ticks:{stepSize:2,color:GREY,font:{size:12},padding:14},
     grid:{color:GRID,lineWidth:1.4,drawTicks:false},border:{color:GRID,width:1.4}}}}
 });
});

new Chart(document.getElementById('c5'),{type:'bar',
 data:{labels:dayLabels,datasets:[
  {label:'Non-activated',data:barNonActivated,backgroundColor:'#41697D',barPercentage:.8,categoryPercentage:.562},
  {label:'Activated',data:barActivated,backgroundColor:'#C41E3E',barPercentage:.8,categoryPercentage:.562}]},
 options:{responsive:false,
  layout:{padding:{left:78,right:809-545,top:403,bottom:661-616-45}},
  plugins:{legend:{display:false},tooltip:{enabled:false}},
  scales:{
   x:{afterFit(s){s.height=45;},ticks:{color:GREY,font:{size:20},padding:12,maxRotation:0},grid:{display:false},border:{color:'#D9D9D9',width:1.4}},
   y:{min:0,max:80,afterFit(s){s.width=40;},ticks:{stepSize:10,color:GREY,font:{size:15},padding:14},grid:{color:'#E2E2E2',lineWidth:1.5,drawTicks:false},border:{display:false}}}}
});
</script>
</body></html>
